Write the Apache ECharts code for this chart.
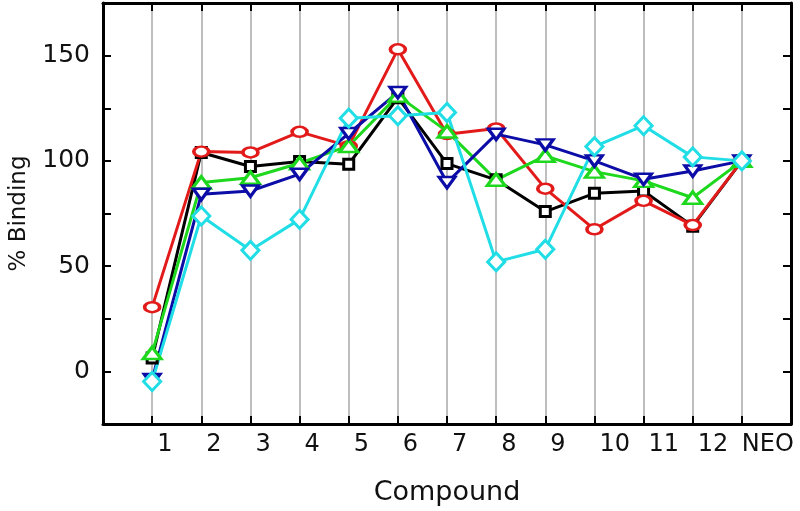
<!DOCTYPE html>
<html>
<head>
<meta charset="utf-8">
<script src="https://cdn.jsdelivr.net/npm/echarts@6/dist/echarts.min.js"></script>
<style>
    html, body { margin: 0; padding: 0; background: #fff; }
    #main { width: 800px; height: 511px; }
</style>
</head>
<body>
<div id="main"></div>
<script>
// compounds on the x axis (blank slot at each end so the frame leaves one step of room)
const compounds = ['1', '2', '3', '4', '5', '6', '7', '8', '9', '10', '11', '12', 'NEO'];
const yTicks = [0, 50, 100, 150];

// % binding
const blackSquare = [6.3, 104, 97.3, 99.7, 98.4, 130, 98.7, 91, 75.9, 84.6, 85.7, 69, 100];
const redCircle = [30.5, 104.4, 104, 113.8, 107, 153, 112.7, 115.4, 86.8, 67.5, 81, 69.5, 100];
const greenUp = [8.7, 89.7, 92, 98.9, 107.1, 131, 114, 91, 102.4, 94.9, 90.5, 82.5, 100];
const blueDown = [-3.9, 84.1, 85.7, 93.7, 113, 132.5, 89.7, 112.7, 107.6, 100, 91.3, 95.2, 100];
const cyanDiamond = [-4.8, 73.8, 57.5, 72.2, 120.3, 121.4, 123, 52, 58, 106.8, 116.7, 101.9, 100];

const xCats = [''].concat(compounds, ['']);
const pad = function (arr) { return [null].concat(arr, [null]); };

const font = 'DejaVu Sans';
const frame = { show: true, onZero: false, lineStyle: { color: '#000', width: 3 } };
const tick = { show: true, inside: true, length: 8, lineStyle: { color: '#000', width: 2 } };

function makeSeries(data, color, symbol, size, rotate) {
    return {
        type: 'line',
        data: pad(data),
        symbol: symbol,
        symbolSize: size,
        symbolRotate: rotate || 0,
        showAllSymbol: true,
        lineStyle: { color: color, width: 3 },
        itemStyle: { color: '#fff', borderColor: color, borderWidth: 3 },
        animation: false
    };
}

let myChart = echarts.init(document.getElementById('main'), null, { renderer: 'canvas' });
const option = {
    backgroundColor: '#fff',
    grid: { left: 101, right: 9, top: 3, bottom: 87 },
    xAxis: [
        {
            type: 'category',
            data: xCats,
            boundaryGap: false,
            name: 'Compound',
            nameLocation: 'middle',
            nameGap: 55,
            nameTextStyle: { fontFamily: font, fontSize: 27, color: '#111' },
            axisLine: frame,
            axisTick: Object.assign({ interval: 0 }, tick),
            axisLabel: {
                interval: 0,
                fontFamily: font,
                fontSize: 24,
                color: '#111',
                align: 'left',
                margin: 9,
                padding: [0, 0, 0, 5],
                formatter: function (v) { return v === 'NEO' ? '{s|NEO}' : v; },
                rich: { s: { fontFamily: font, fontSize: 24, color: '#111', padding: [0, 0, 0, -5] } }
            },
            splitLine: { show: true, interval: 0, lineStyle: { color: '#a8a8a8', width: 1.5 } }
        },
        {
            type: 'category',
            data: xCats,
            boundaryGap: false,
            position: 'top',
            axisLine: frame,
            axisTick: Object.assign({ interval: 0 }, tick),
            axisLabel: { show: false },
            splitLine: { show: false }
        }
    ],
    yAxis: [
        {
            type: 'value',
            min: -25,
            max: 175,
            interval: 25,
            name: '% Binding',
            nameLocation: 'middle',
            nameGap: 72,
            nameTextStyle: { fontFamily: font, fontSize: 23, color: '#111' },
            axisLine: frame,
            axisTick: tick,
            axisLabel: {
                fontFamily: font,
                fontSize: 25,
                color: '#111',
                margin: 13,
                formatter: function (v) { return yTicks.indexOf(v) >= 0 ? String(v) : ''; }
            },
            splitLine: { show: false }
        },
        {
            type: 'value',
            min: -25,
            max: 175,
            interval: 25,
            position: 'right',
            axisLine: frame,
            axisTick: tick,
            axisLabel: { show: false },
            splitLine: { show: false }
        }
    ],
    series: [
        makeSeries(blackSquare, '#000000', 'rect', [10, 10]),
        makeSeries(redCircle, '#e21a1a', 'circle', [15, 10]),
        makeSeries(greenUp, '#1ed81e', 'triangle', [18, 12]),
        makeSeries(blueDown, '#0c0ca6', 'triangle', [16, 11], 180),
        makeSeries(cyanDiamond, '#20dde6', 'diamond', [17, 18])
    ]
};
myChart.setOption(option);
</script>
</body>
</html>
